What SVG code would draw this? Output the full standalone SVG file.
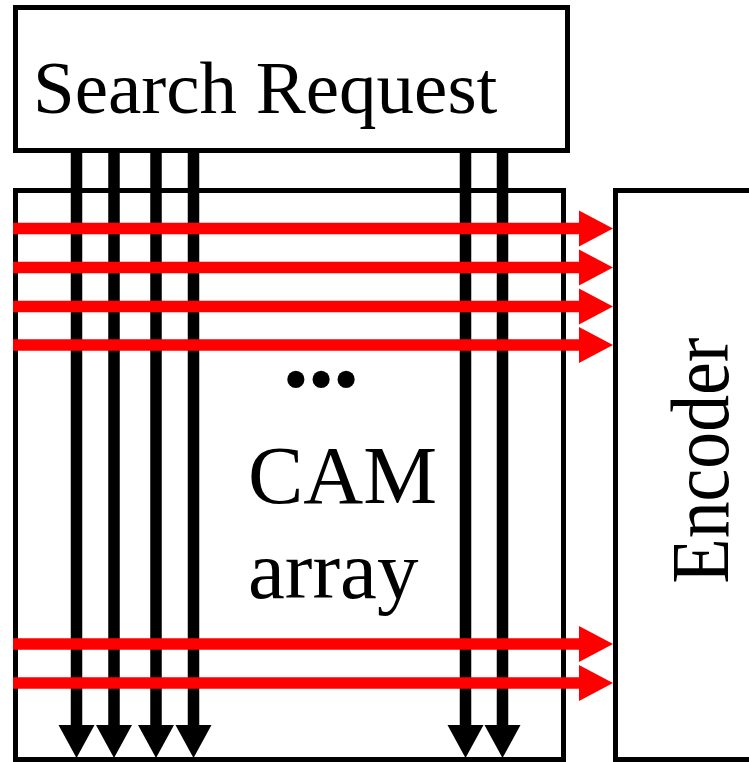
<svg xmlns="http://www.w3.org/2000/svg" width="749" height="762" viewBox="0 0 749 762">
<style>
.box{fill:#fff;stroke:#000;stroke-width:5}
.lbl{font-family:"Liberation Serif","Times New Roman",serif;fill:#000}
.bl{stroke:#000;stroke-width:11.5;fill:none}
.rl{stroke:#ff0000;stroke-width:11.5;fill:none}
.bh{fill:#000}
.rh{fill:#ff0000}
</style>
<rect x="0" y="0" width="749" height="762" fill="#fff"/>
<g id="search-request">
<rect class="box" x="15.5" y="7.5" width="552" height="143"/>
<text class="lbl" x="33" y="113" font-size="75">Search Request</text>
</g>
<g id="cam-array">
<rect class="box" x="15.5" y="190.5" width="548" height="569"/>
<text class="lbl" x="321" y="403" font-size="72" text-anchor="middle">•••</text>
<text class="lbl" x="248" y="503" font-size="83">CAM</text>
<text class="lbl" x="248" y="598" font-size="83">array</text>
</g>
<g id="encoder">
<rect class="box" x="615.5" y="190.5" width="200" height="569"/>
<text class="lbl" font-size="82" text-anchor="middle" transform="translate(728,460.5) rotate(-90) scale(0.9,1)">Encoder</text>
</g>
<g id="connectors">
<g id="search-lines">
<path class="bl" d="M76.5 150V726M114 150V726M156 150V726M193.5 150V726M465.5 150V726M502.5 150V726"/>
<polygon class="bh" points="58.5,725 94.5,725 76.5,758"/>
<polygon class="bh" points="96,725 132,725 114,758"/>
<polygon class="bh" points="138,725 174,725 156,758"/>
<polygon class="bh" points="175.5,725 211.5,725 193.5,758"/>
<polygon class="bh" points="447.5,725 483.5,725 465.5,758"/>
<polygon class="bh" points="484.5,725 520.5,725 502.5,758"/>
</g>
<g id="match-lines">
<path class="rl" d="M13 228.5H580M13 267.5H580M13 306.5H580M13 345H580M13 644H580M13 683H580"/>
<polygon class="rh" points="579,210.5 579,246.5 613,228.5"/>
<polygon class="rh" points="579,249.5 579,285.5 613,267.5"/>
<polygon class="rh" points="579,288.5 579,324.5 613,306.5"/>
<polygon class="rh" points="579,327 579,363 613,345"/>
<polygon class="rh" points="579,626 579,662 613,644"/>
<polygon class="rh" points="579,665 579,701 613,683"/>
</g>
</g>
</svg>
